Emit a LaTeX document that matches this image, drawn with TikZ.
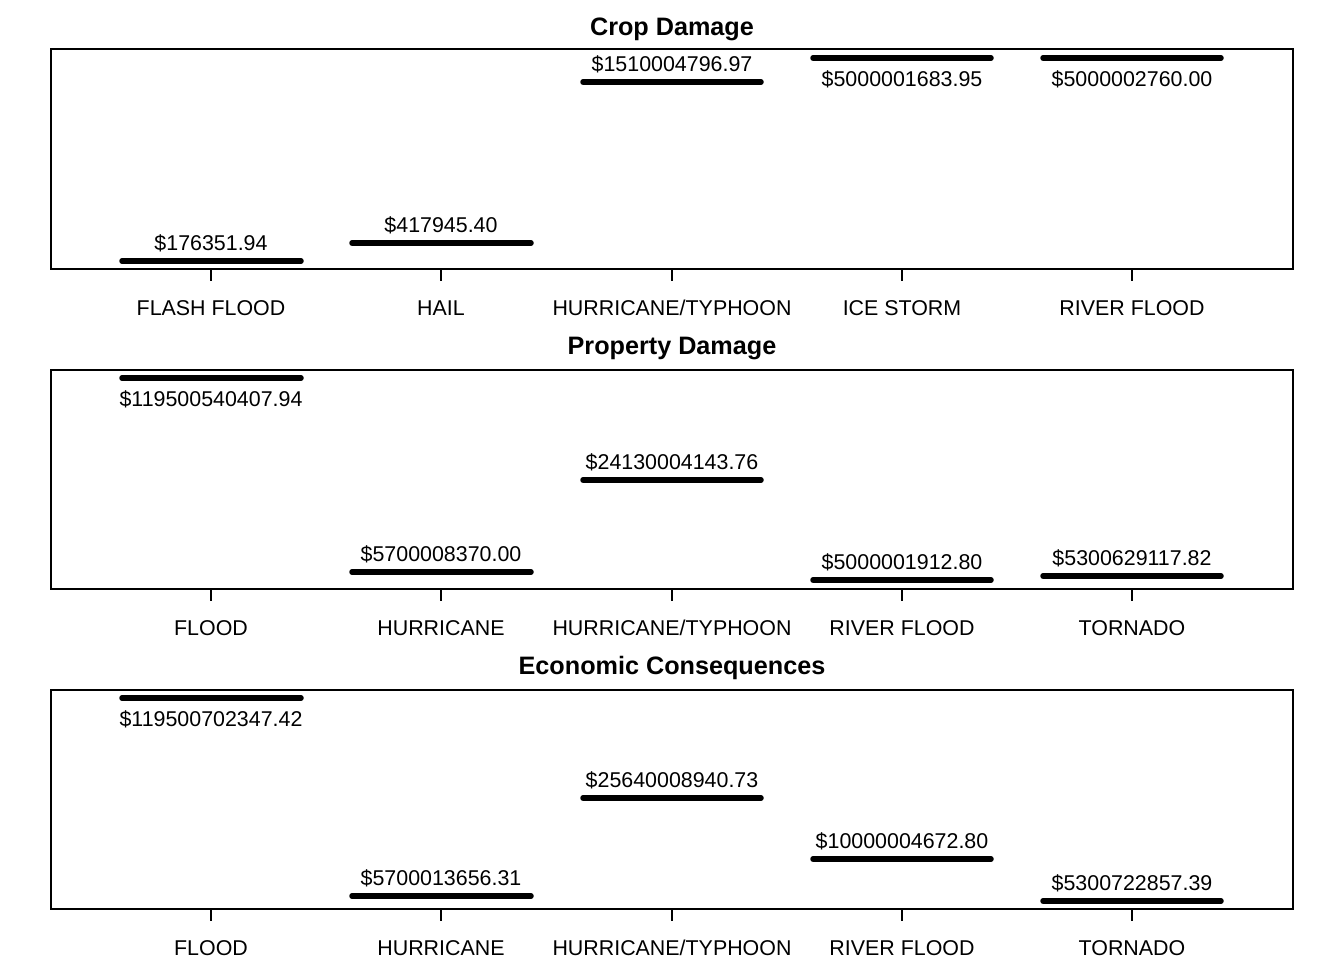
\documentclass[tikz,border=0pt]{standalone}
\usepackage{fontspec}
\setmainfont{Liberation Sans}
\usetikzlibrary{positioning}

\begin{document}
\begin{tikzpicture}[x=1pt, y=-1pt,
panel/.style={draw=black, line width=1.6pt},
bar/.style={black, line width=5.5pt, line cap=round},
tick/.style={draw=black, line width=1.6pt},
val/.style={inner sep=0pt, font=\fontsize{21.4}{25}\selectfont},
cat/.style={inner sep=0pt, font=\fontsize{21.4}{25}\selectfont},
ttl/.style={inner sep=0pt, font=\bfseries\fontsize{25.2}{29}\selectfont}
]
\useasboundingbox (0,0) rectangle (1344,960);

% Crop Damage
\node[ttl] (crop) at (672,29) {Crop Damage};
\draw[panel] (51,49) rectangle (1293,269);
\foreach \x/\t in {211/{FLASH FLOOD}, 441/{HAIL}, 672/{HURRICANE/TYPHOON}, 902/{ICE STORM}, 1132/{RIVER FLOOD}}
{
  \draw[tick] (\x,269) -- (\x,281);
  \node[cat] at (\x,308) {\t};
}
\coordinate (c1a) at (122,261); \coordinate (c1b) at (301,261);
\coordinate (c2a) at (352,243); \coordinate (c2b) at (531,243);
\coordinate (c3a) at (583,82);  \coordinate (c3b) at (761,82);
\coordinate (c4a) at (813,58);  \coordinate (c4b) at (991,58);
\coordinate (c5a) at (1043,58); \coordinate (c5b) at (1221,58);
\draw[bar] (c1a) -- (c1b);
\draw[bar] (c2a) -- (c2b);
\draw[bar] (c3a) -- (c3b);
\draw[bar] (c4a) -- (c4b);
\draw[bar] (c5a) -- (c5b);
\node[val] (c1v) at (211,243) {\$176351.94};
\node[val] (c2v) at (441,225) {\$417945.40};
\node[val] (c3v) at (672,64) {\$1510004796.97};
\node[val] (c4v) at (902,79) {\$5000001683.95};
\node[val] (c5v) at (1132,79) {\$5000002760.00};

% Property Damage
\node[ttl] (prop) at (672,348) {Property Damage};
\draw[panel] (51,370) rectangle (1293,589);
\foreach \x/\t in {211/{FLOOD}, 441/{HURRICANE}, 672/{HURRICANE/TYPHOON}, 902/{RIVER FLOOD}, 1132/{TORNADO}}
{
  \draw[tick] (\x,589) -- (\x,601);
  \node[cat] at (\x,628) {\t};
}
\coordinate (p1a) at (122,378); \coordinate (p1b) at (301,378);
\coordinate (p2a) at (352,572); \coordinate (p2b) at (531,572);
\coordinate (p3a) at (583,480); \coordinate (p3b) at (761,480);
\coordinate (p4a) at (813,580); \coordinate (p4b) at (991,580);
\coordinate (p5a) at (1043,576); \coordinate (p5b) at (1221,576);
\draw[bar] (p1a) -- (p1b);
\draw[bar] (p2a) -- (p2b);
\draw[bar] (p3a) -- (p3b);
\draw[bar] (p4a) -- (p4b);
\draw[bar] (p5a) -- (p5b);
\node[val] (p1v) at (211,399) {\$119500540407.94};
\node[val] (p2v) at (441,554) {\$5700008370.00};
\node[val] (p3v) at (672,462) {\$24130004143.76};
\node[val] (p4v) at (902,562) {\$5000001912.80};
\node[val] (p5v) at (1132,558) {\$5300629117.82};

% Economic Consequences
\node[ttl] (econ) at (672,668) {Economic Consequences};
\draw[panel] (51,690) rectangle (1293,909);
\foreach \x/\t in {211/{FLOOD}, 441/{HURRICANE}, 672/{HURRICANE/TYPHOON}, 902/{RIVER FLOOD}, 1132/{TORNADO}}
{
  \draw[tick] (\x,909) -- (\x,921);
  \node[cat] at (\x,948) {\t};
}
\coordinate (e1a) at (122,698); \coordinate (e1b) at (301,698);
\coordinate (e2a) at (352,896); \coordinate (e2b) at (531,896);
\coordinate (e3a) at (583,798); \coordinate (e3b) at (761,798);
\coordinate (e4a) at (813,859); \coordinate (e4b) at (991,859);
\coordinate (e5a) at (1043,901); \coordinate (e5b) at (1221,901);
\draw[bar] (e1a) -- (e1b);
\draw[bar] (e2a) -- (e2b);
\draw[bar] (e3a) -- (e3b);
\draw[bar] (e4a) -- (e4b);
\draw[bar] (e5a) -- (e5b);
\node[val] (e1v) at (211,719) {\$119500702347.42};
\node[val] (e2v) at (441,878) {\$5700013656.31};
\node[val] (e3v) at (672,780) {\$25640008940.73};
\node[val] (e4v) at (902,841) {\$10000004672.80};
\node[val] (e5v) at (1132,883) {\$5300722857.39};
\end{tikzpicture}
\end{document}
